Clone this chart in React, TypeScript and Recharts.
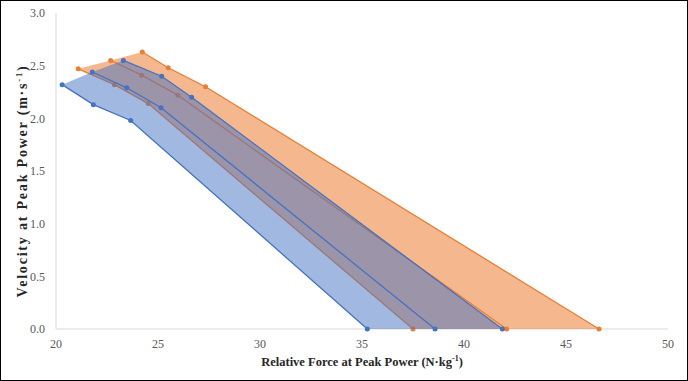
import React from 'react';
import { ScatterChart, Scatter, XAxis, YAxis } from 'recharts';

// ---- data ----
const blueLower = [
  { x: 20.3, y: 2.32 },
  { x: 21.83, y: 2.13 },
  { x: 23.66, y: 1.98 },
  { x: 35.26, y: 0 },
];
const blueMiddle = [
  { x: 21.78, y: 2.44 },
  { x: 23.47, y: 2.29 },
  { x: 25.15, y: 2.1 },
  { x: 38.58, y: 0 },
];
const blueUpper = [
  { x: 23.3, y: 2.55 },
  { x: 25.18, y: 2.4 },
  { x: 26.65, y: 2.2 },
  { x: 41.88, y: 0 },
];
const orangeLower = [
  { x: 21.09, y: 2.47 },
  { x: 22.86, y: 2.32 },
  { x: 24.52, y: 2.14 },
  { x: 37.5, y: 0 },
];
const orangeMiddle = [
  { x: 22.68, y: 2.55 },
  { x: 24.2, y: 2.41 },
  { x: 25.97, y: 2.22 },
  { x: 42.09, y: 0 },
];
const orangeUpper = [
  { x: 24.23, y: 2.63 },
  { x: 25.5, y: 2.48 },
  { x: 27.33, y: 2.3 },
  { x: 46.62, y: 0 },
];

const xTicks = [20, 25, 30, 35, 40, 45, 50];
const yTicks = [0, 0.5, 1, 1.5, 2, 2.5, 3];

const xTitle = 'Relative Force at Peak Power (N·kg';
const yTitle = 'Velocity at Peak Power (m·s';

type P = { x: number; y: number };
const polygonOf = (lower: P[], middle: P[], upper: P[]) => [
  lower[0],
  middle[0],
  ...upper,
  ...lower.slice().reverse(),
];
const bluePolygon = polygonOf(blueLower, blueMiddle, blueUpper);
const orangePolygon = polygonOf(orangeLower, orangeMiddle, orangeUpper);

const BLUE = '#4472c4';
const ORANGE = '#ed7d31';
const FONT = '"Liberation Serif", "Times New Roman", serif';

const makeDot = (color: string) => (props: any) =>
  props.cx == null ? <g /> : <circle cx={props.cx} cy={props.cy} r={2.5} fill={color} />;
const NoDot = () => <g />;

const XTitle = (props: any) => {
  const vb = props.viewBox || { x: 56, y: 329, width: 612, height: 52 };
  const cx = vb.x + vb.width / 2;
  const cy = vb.y + 37;
  return (
    <text x={cx} y={cy} textAnchor="middle" fontFamily={FONT} fontWeight="bold" fontSize={12.5} fill="#262626">
      {xTitle}
      <tspan dy={-5} fontSize={8}>-1</tspan>
      <tspan dy={5}>)</tspan>
    </text>
  );
};

const YTitle = (props: any) => {
  const vb = props.viewBox || { x: 0, y: 13, width: 56, height: 316 };
  const cx = vb.x + 27;
  const cy = vb.y + vb.height / 2 + 10;
  return (
    <text
      transform={`translate(${cx},${cy}) rotate(-90)`}
      x={0}
      y={0}
      textAnchor="middle"
      fontFamily={FONT}
      fontWeight="bold"
      fontSize={14}
      letterSpacing={1.8}
      fill="#262626"
    >
      {yTitle}
      <tspan dy={-5} fontSize={8.5}>-1</tspan>
      <tspan dy={5}>)</tspan>
    </text>
  );
};

export default function App() {
  const tickStyle = { fill: '#595959', fontSize: 12, fontFamily: FONT };
  return (
    <div style={{ position: 'absolute', left: 0, top: 0, width: 688, height: 381, background: '#fff' }}>
      <ScatterChart width={688} height={381} margin={{ top: 13, right: 20, bottom: 0, left: 0 }}>
        <XAxis
          type="number"
          dataKey="x"
          domain={[20, 50]}
          ticks={xTicks}
          interval={0}
          axisLine={{ stroke: '#d9d9d9' }}
          tickLine={false}
          tick={tickStyle}
          tickMargin={4}
          height={52}
          label={{ content: (p: any) => <XTitle {...p} /> }}
        />
        <YAxis
          type="number"
          dataKey="y"
          domain={[0, 3]}
          ticks={yTicks}
          interval={0}
          tickFormatter={(v: number) => v.toFixed(1)}
          axisLine={{ stroke: '#d9d9d9' }}
          tickLine={false}
          tick={tickStyle}
          tickMargin={5}
          width={56}
          label={{ content: (p: any) => <YTitle {...p} /> }}
        />
        <Scatter
          data={orangePolygon}
          shape={NoDot}
          line={{ fill: ORANGE, fillOpacity: 0.55, stroke: 'none' }}
          lineType="joint"
          isAnimationActive={false}
        />
        {[orangeLower, orangeMiddle, orangeUpper].map((d, i) => (
          <Scatter
            key={'o' + i}
            data={d}
            fill={ORANGE}
            shape={makeDot(ORANGE)}
            line={{ stroke: ORANGE, strokeWidth: 1.3, fill: 'none' }}
            lineType="joint"
            isAnimationActive={false}
          />
        ))}
        <Scatter
          data={bluePolygon}
          shape={NoDot}
          line={{ fill: BLUE, fillOpacity: 0.5, stroke: 'none' }}
          lineType="joint"
          isAnimationActive={false}
        />
        {[blueLower, blueMiddle, blueUpper].map((d, i) => (
          <Scatter
            key={'b' + i}
            data={d}
            fill={BLUE}
            shape={makeDot(BLUE)}
            line={{ stroke: BLUE, strokeWidth: 1.3, fill: 'none' }}
            lineType="joint"
            isAnimationActive={false}
          />
        ))}
      </ScatterChart>
      <div
        style={{
          position: 'absolute',
          left: 0,
          top: 0,
          width: 688,
          height: 381,
          boxSizing: 'border-box',
          border: '1px solid #000',
          pointerEvents: 'none',
        }}
      />
    </div>
  );
}
